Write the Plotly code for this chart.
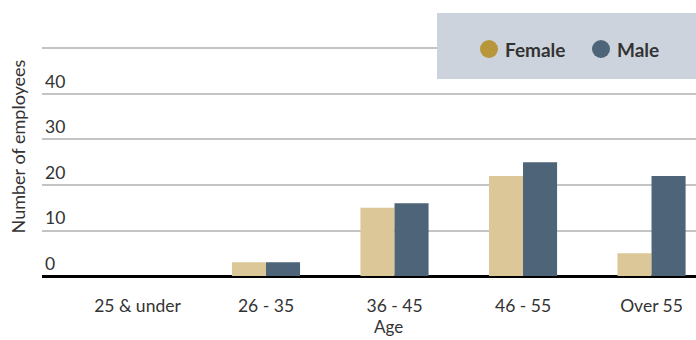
import plotly.graph_objects as go

categories = ["25 & under", "26 - 35", "36 - 45", "46 - 55", "Over 55"]
female = [0, 3, 15, 22, 5]
male = [0, 3, 16, 25, 22]
y_tickvals = [0, 10, 20, 30, 40, 50]
y_ticktext = ["0", "10", "20", "30", "40", ""]
legend_names = ["Female", "Male"]

FEMALE_BAR = "#dbc797"
FEMALE_LEG = "#b8963c"
MALE = "#4d6479"
FONT = "Lato"
TXT = "#333333"

# plot area in pixels: x 42..696, y 13..280
def px_x(p):
    return (p - 42) / 654.0

def px_y(p):
    return (280 - p) / 267.0

fig = go.Figure()
fig.add_bar(x=categories, y=female, marker_color=FEMALE_BAR, marker_line_width=0,
            showlegend=False, name=legend_names[0])
fig.add_bar(x=categories, y=male, marker_color=MALE, marker_line_width=0,
            showlegend=False, name=legend_names[1])

shapes = [dict(type="rect", xref="paper", yref="paper", x0=px_x(437), x1=1.0, y0=px_y(79), y1=1.0,
               fillcolor="#cdd3dd", line=dict(width=0), layer="above")]
annotations = []
for name, col, cx, tx in [(legend_names[0], FEMALE_LEG, 489, 503), (legend_names[1], MALE, 601, 615)]:
    shapes.append(dict(type="circle", xref="paper", yref="paper", xsizemode="pixel", ysizemode="pixel",
                       xanchor=px_x(cx), yanchor=px_y(49), x0=-9, x1=9, y0=-9, y1=9,
                       fillcolor=col, line=dict(width=0), layer="above"))
    annotations.append(dict(text=f"<b>{name}</b>", xref="paper", yref="paper", x=px_x(tx), y=px_y(49),
                            xanchor="left", yanchor="middle", showarrow=False,
                            font=dict(family=FONT, size=19, color=TXT)))
annotations.append(dict(text="Age", xref="paper", yref="paper", x=px_x(388), y=px_y(339),
                        xanchor="center", yanchor="bottom", showarrow=False,
                        font=dict(family=FONT, size=17, color=TXT)))

fig.update_layout(
    width=696, height=340,
    margin=dict(l=42, r=0, t=13, b=60),
    paper_bgcolor="white", plot_bgcolor="white",
    font=dict(family=FONT, color=TXT),
    barmode="group", bargap=0.47, bargroupgap=0,
    showlegend=False,
    shapes=shapes, annotations=annotations,
)
fig.update_xaxes(
    range=[-0.743, 4.346], showgrid=False, showline=False, zeroline=False,
    tickfont=dict(family=FONT, size=17.5, color=TXT), ticks="", ticklabelstandoff=13,
)
fig.update_yaxes(
    range=[-0.879, 57.8], tickvals=y_tickvals, ticktext=y_ticktext,
    ticklabelposition="inside top", tickfont=dict(family=FONT, size=17.5, color=TXT),
    showgrid=True, gridcolor="#c4c4c4", gridwidth=1.5,
    zeroline=True, zerolinecolor="black", zerolinewidth=3, showline=False,
    title=dict(text="Number of employees", font=dict(family=FONT, size=18, color=TXT), standoff=14),
)

fig.write_html("out.html")
